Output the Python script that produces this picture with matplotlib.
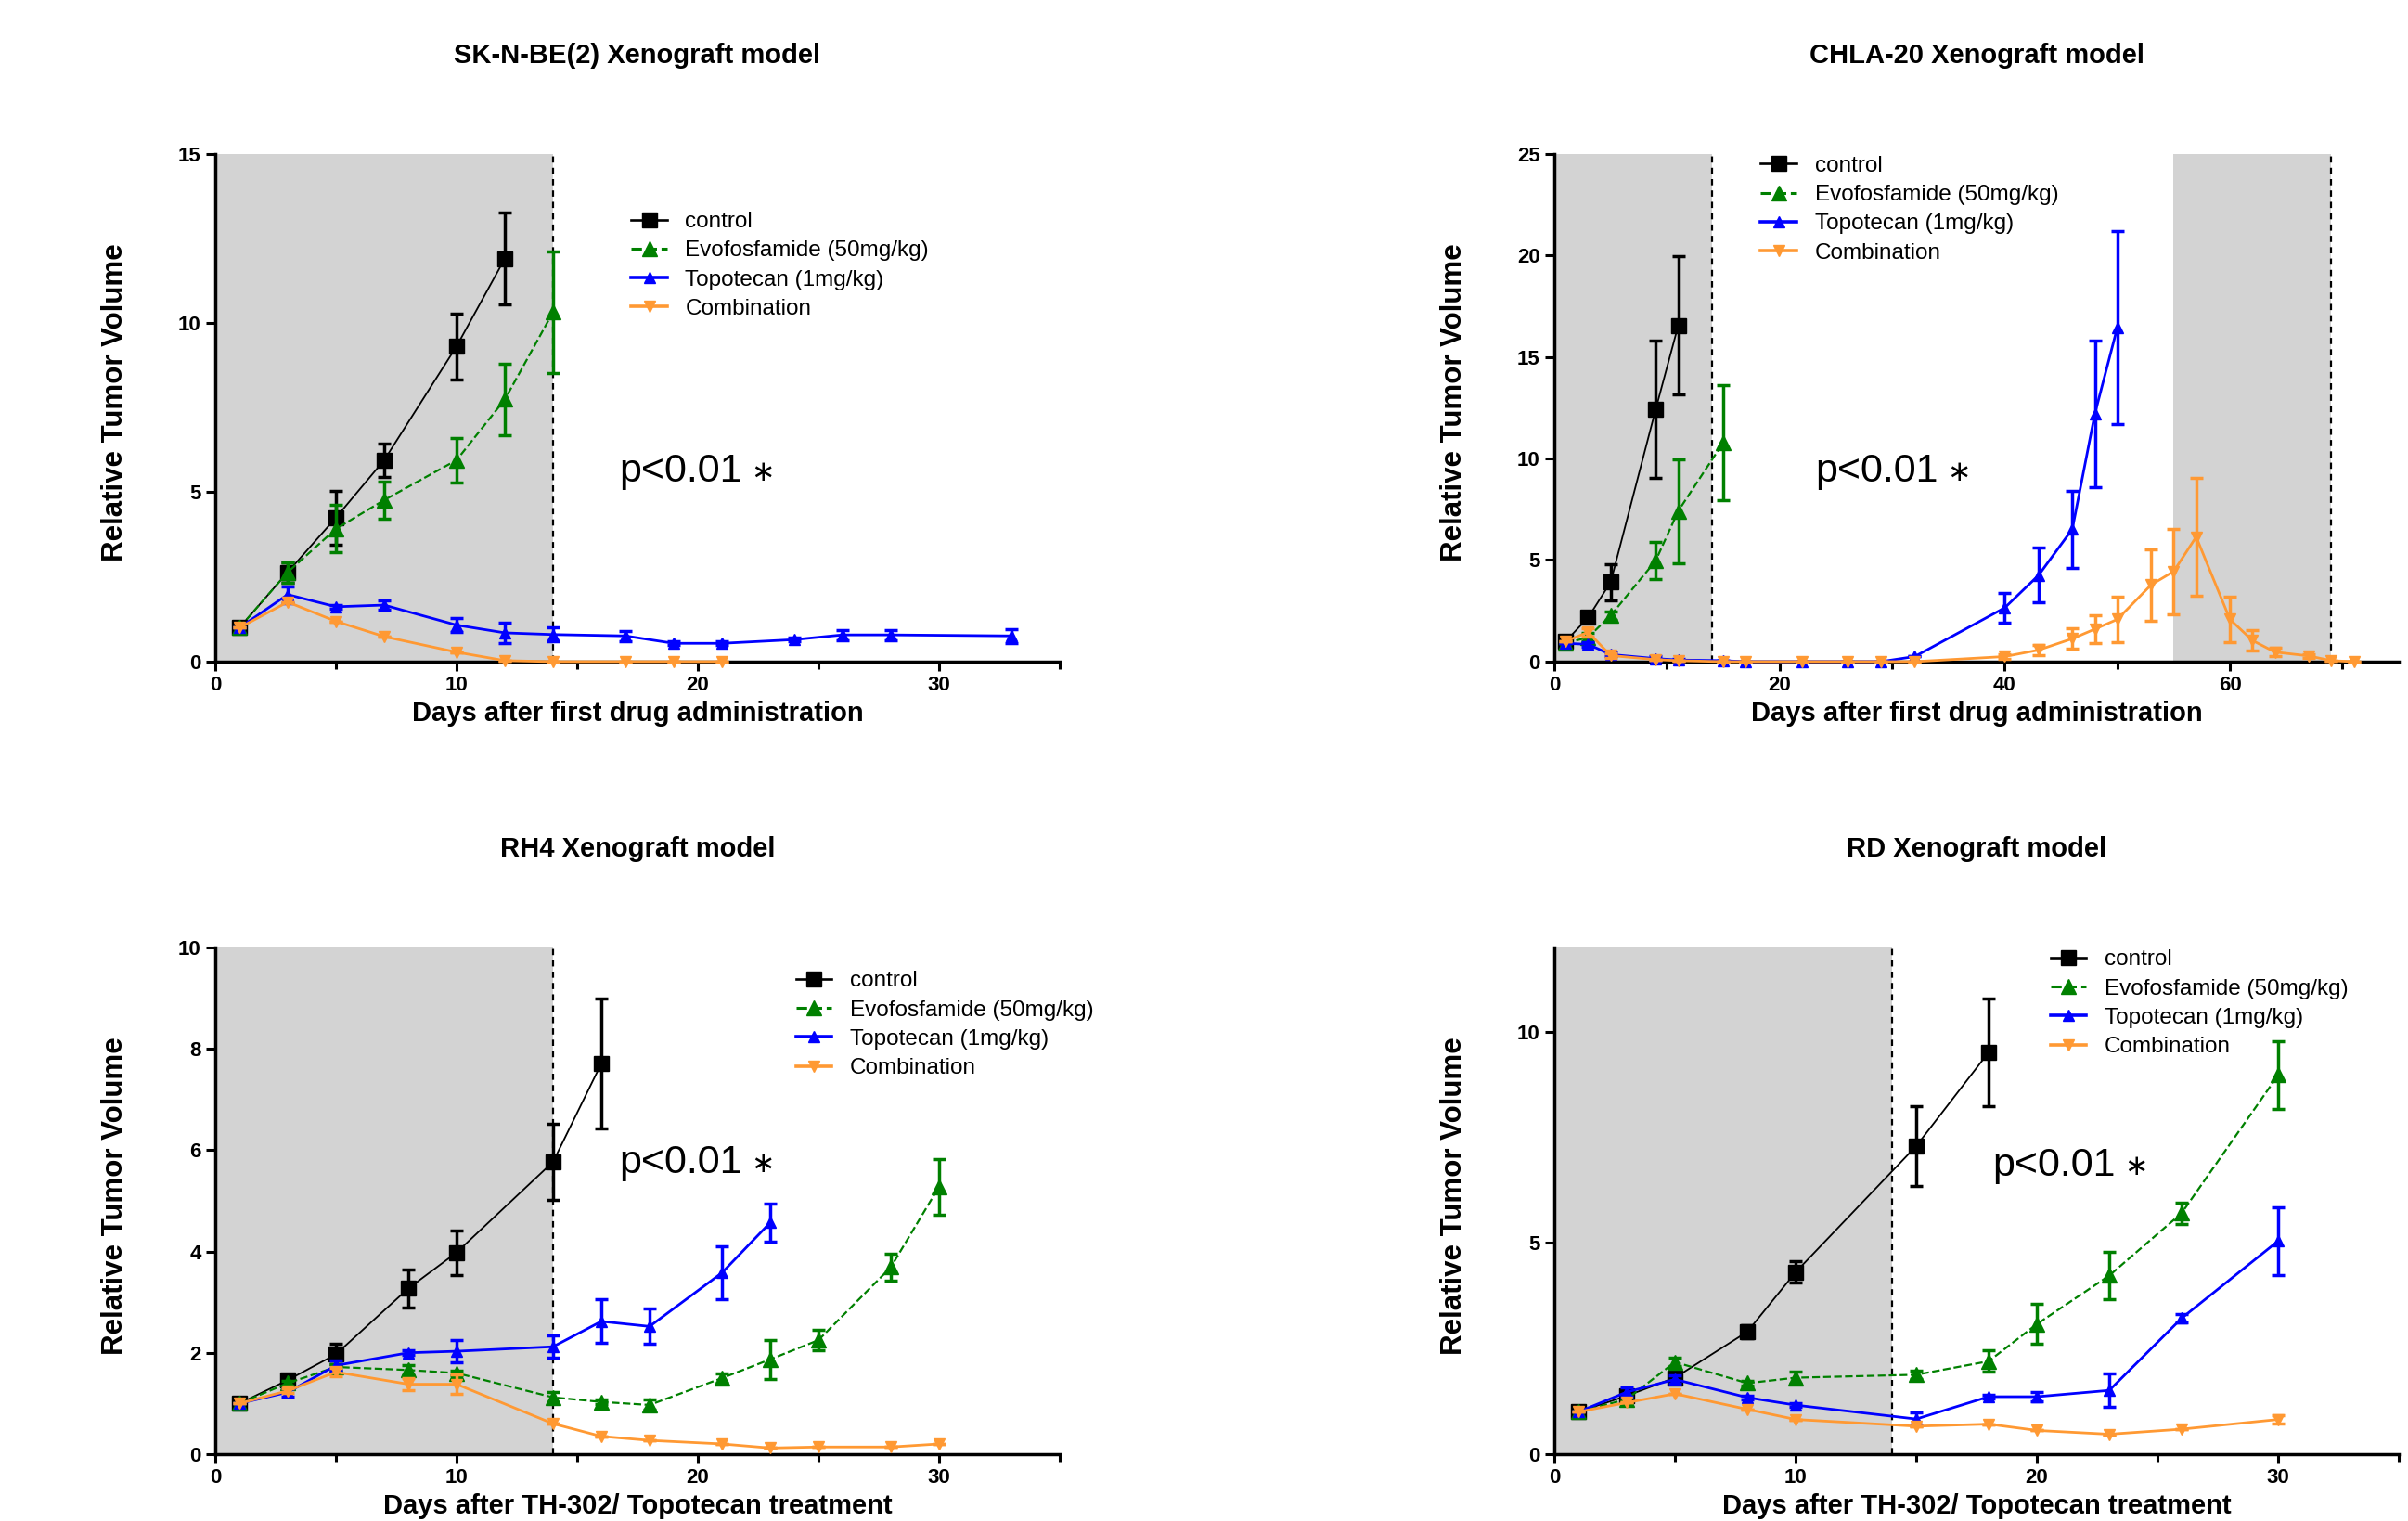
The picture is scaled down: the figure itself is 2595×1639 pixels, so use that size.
import matplotlib
matplotlib.use("Agg")
import matplotlib.pyplot as plt
from matplotlib.lines import Line2D
import numpy as np

# ---------------- DATA ----------------
titles = ["SK-N-BE(2) Xenograft model", "CHLA-20 Xenograft model",
          "RH4 Xenograft model", "RD Xenograft model"]
xlabels = ["Days after first drug administration", "Days after first drug administration",
           "Days after TH-302/ Topotecan treatment", "Days after TH-302/ Topotecan treatment"]
series_names = ["control", "Evofosfamide (50mg/kg)", "Topotecan (1mg/kg)", "Combination"]

# SK-N-BE(2)
p1_ctrl_days = [1, 3, 5, 7, 10, 12]
p1_ctrl = [1.0, 2.64, 4.25, 5.95, 9.31, 11.9]
p1_ctrl_err = [0, 0.3, 0.8, 0.5, 0.97, 1.35]
p1_evo_days = [1, 3, 5, 7, 10, 12, 14]
p1_evo = [1.0, 2.64, 3.92, 4.77, 5.95, 7.74, 10.32]
p1_evo_err = [0, 0.3, 0.7, 0.55, 0.65, 1.05, 1.8]
p1_topo_days = [1, 3, 5, 7, 10, 12, 14, 17, 19, 21, 24, 26, 28, 33]
p1_topo = [1.0, 1.98, 1.62, 1.67, 1.08, 0.85, 0.8, 0.76, 0.54, 0.54, 0.65, 0.79, 0.79, 0.76]
p1_topo_err = [0, 0.25, 0.05, 0.15, 0.2, 0.3, 0.2, 0.15, 0.05, 0.05, 0.05, 0.15, 0.15, 0.2]
p1_comb_days = [1, 3, 5, 7, 10, 12, 14, 17, 19, 21]
p1_comb = [1.0, 1.76, 1.19, 0.74, 0.28, 0.03, 0.0, 0.0, 0.0, 0.0]
p1_comb_err = [0, 0, 0, 0, 0, 0, 0, 0, 0, 0]

# CHLA-20
p2_ctrl_days = [1, 3, 5, 9, 11]
p2_ctrl = [1.0, 2.17, 3.91, 12.42, 16.54]
p2_ctrl_err = [0, 0.2, 0.9, 3.4, 3.4]
p2_evo_days = [1, 3, 5, 9, 11, 15]
p2_evo = [0.9, 1.2, 2.27, 4.97, 7.41, 10.78]
p2_evo_err = [0, 0.2, 0.2, 0.9, 2.55, 2.85]
p2_topo_days = [1, 3, 5, 9, 11, 15, 17, 22, 26, 29, 32, 40, 43, 46, 48, 50]
p2_topo = [0.9, 0.85, 0.35, 0.15, 0.08, 0.05, 0, 0, 0, 0, 0.25, 2.65, 4.25, 6.52, 12.19, 16.45]
p2_topo_err = [0, 0.1, 0.1, 0.1, 0.05, 0, 0, 0, 0, 0, 0, 0.75, 1.35, 1.9, 3.6, 4.75]
p2_comb_days = [1, 3, 5, 9, 11, 15, 17, 22, 26, 29, 32, 40, 43, 46, 48, 50, 53, 55, 57, 60, 62, 64, 67, 69, 71]
p2_comb = [1.0, 1.45, 0.3, 0.1, 0.05, 0, 0, 0, 0, 0, 0, 0.25, 0.57, 1.13, 1.6, 2.08, 3.78, 4.44, 6.14,
           2.08, 1.04, 0.47, 0.28, 0.05, 0]
p2_comb_err = [0, 0.2, 0.1, 0, 0, 0, 0, 0, 0, 0, 0, 0.1, 0.25, 0.5, 0.7, 1.1, 1.75, 2.1, 2.9,
               1.1, 0.5, 0.2, 0.1, 0, 0]

# RH4
p3_ctrl_days = [1, 3, 5, 8, 10, 14, 16]
p3_ctrl = [1.0, 1.46, 1.97, 3.27, 3.98, 5.77, 7.71]
p3_ctrl_err = [0, 0.08, 0.2, 0.37, 0.44, 0.75, 1.28]
p3_evo_days = [1, 3, 5, 8, 10, 14, 16, 18, 21, 23, 25, 28, 30]
p3_evo = [1.0, 1.4, 1.72, 1.66, 1.6, 1.12, 1.03, 0.97, 1.5, 1.87, 2.25, 3.69, 5.28]
p3_evo_err = [0, 0.05, 0.05, 0.1, 0.05, 0.1, 0.05, 0.1, 0.1, 0.38, 0.2, 0.27, 0.55]
p3_topo_days = [1, 3, 5, 8, 10, 14, 16, 18, 21, 23]
p3_topo = [1.0, 1.22, 1.75, 2.0, 2.03, 2.12, 2.62, 2.52, 3.58, 4.57]
p3_topo_err = [0, 0.08, 0.1, 0.05, 0.22, 0.22, 0.43, 0.35, 0.53, 0.37]
p3_comb_days = [1, 3, 5, 8, 10, 14, 16, 18, 21, 23, 25, 28, 30]
p3_comb = [1.0, 1.25, 1.62, 1.38, 1.38, 0.6, 0.35, 0.27, 0.2, 0.12, 0.14, 0.14, 0.2]
p3_comb_err = [0, 0.05, 0.08, 0.12, 0.2, 0, 0, 0, 0, 0, 0, 0, 0]

# RD
p4_ctrl_days = [1, 3, 5, 8, 10, 15, 18]
p4_ctrl = [1.0, 1.38, 1.81, 2.9, 4.31, 7.3, 9.52]
p4_ctrl_err = [0, 0.08, 0.1, 0.15, 0.25, 0.95, 1.27]
p4_evo_days = [1, 3, 5, 8, 10, 15, 18, 20, 23, 26, 30]
p4_evo = [1.0, 1.3, 2.18, 1.68, 1.81, 1.88, 2.2, 3.08, 4.23, 5.71, 8.98]
p4_evo_err = [0, 0.05, 0.1, 0.05, 0.15, 0.1, 0.25, 0.47, 0.57, 0.25, 0.8]
p4_topo_days = [1, 3, 5, 8, 10, 15, 18, 20, 23, 26, 30]
p4_topo = [1.0, 1.47, 1.77, 1.34, 1.16, 0.83, 1.36, 1.36, 1.51, 3.22, 5.05]
p4_topo_err = [0, 0.1, 0.1, 0.05, 0.05, 0.15, 0.05, 0.12, 0.4, 0.1, 0.8]
p4_comb_days = [1, 3, 5, 8, 10, 15, 18, 20, 23, 26, 30]
p4_comb = [1.0, 1.22, 1.43, 1.06, 0.82, 0.66, 0.71, 0.56, 0.47, 0.59, 0.82]
p4_comb_err = [0, 0, 0, 0, 0, 0, 0, 0, 0, 0, 0.1]

panels = [
    [(p1_ctrl_days, p1_ctrl, p1_ctrl_err), (p1_evo_days, p1_evo, p1_evo_err),
     (p1_topo_days, p1_topo, p1_topo_err), (p1_comb_days, p1_comb, p1_comb_err)],
    [(p2_ctrl_days, p2_ctrl, p2_ctrl_err), (p2_evo_days, p2_evo, p2_evo_err),
     (p2_topo_days, p2_topo, p2_topo_err), (p2_comb_days, p2_comb, p2_comb_err)],
    [(p3_ctrl_days, p3_ctrl, p3_ctrl_err), (p3_evo_days, p3_evo, p3_evo_err),
     (p3_topo_days, p3_topo, p3_topo_err), (p3_comb_days, p3_comb, p3_comb_err)],
    [(p4_ctrl_days, p4_ctrl, p4_ctrl_err), (p4_evo_days, p4_evo, p4_evo_err),
     (p4_topo_days, p4_topo, p4_topo_err), (p4_comb_days, p4_comb, p4_comb_err)],
]

xlims = [35, 75, 35, 35]
ylims = [15, 25, 10, 12]
xmajor = [10, 20, 10, 10]
ymajor = [5, 5, 2, 5]
shades = [[(0, 14)], [(0, 14), (55, 69)], [(0, 14)], [(0, 14)]]

# ---------------- STYLE ----------------
NARROW = ['Liberation Sans Narrow', 'Liberation Sans', 'DejaVu Sans']
ARIAL = ['Liberation Sans', 'DejaVu Sans']
plt.rcParams['font.family'] = ARIAL

colors = ['#000000', '#008000', '#0000FF', '#FF9933']
markers = ['s', '^', '^', 'v']
msizes = [11, 11, 8, 8]
lstyles = ['-', '--', '-', '-']
lwidths = [1.3, 1.6, 2.0, 2.0]

fig = plt.figure(figsize=(25.95, 16.39), dpi=100)

axpos = [
    [0.0894, 0.565, 0.3507, 0.334],
    [0.6455, 0.565, 0.3507, 0.334],
    [0.0894, 0.044, 0.3507, 0.333],
    [0.6455, 0.044, 0.3507, 0.333],
]
legend_anchor = [(0.479, 0.908), (0.231, 1.018), (0.674, 0.976), (0.574, 1.018)]
ptext_pos = [(0.478, 0.375), (0.309, 0.375), (0.478, 0.576), (0.519, 0.57)]
title_y = [0.9636, 0.9636, 0.4417, 0.4417]

for i in range(4):
    ax = fig.add_axes(axpos[i])
    for (a, b) in shades[i]:
        ax.axvspan(a, b, color='#D3D3D3', zorder=0, lw=0)
        ax.axvline(b, color='black', ls=(0, (3, 2.5)), lw=1.6, zorder=1)
    handles = []
    for k in range(4):
        d, v, e = panels[i][k]
        ax.errorbar(d, v, yerr=e, color=colors[k], marker=markers[k], ms=msizes[k],
                    ls=lstyles[k], lw=lwidths[k], elinewidth=2.5, capsize=5, capthick=2.5,
                    zorder=3 + k, clip_on=False)
        handles.append(Line2D([], [], color=colors[k], marker=markers[k], ms=msizes[k],
                              ls=lstyles[k], lw=lwidths[k] + 0.6, label=series_names[k]))
    ax.set_xlim(0, xlims[i])
    ax.set_ylim(0, ylims[i])
    ax.xaxis.set_major_locator(matplotlib.ticker.MultipleLocator(xmajor[i]))
    ax.xaxis.set_minor_locator(matplotlib.ticker.MultipleLocator(xmajor[i] / 2))
    ax.yaxis.set_major_locator(matplotlib.ticker.MultipleLocator(ymajor[i]))
    for s in ['top', 'right']:
        ax.spines[s].set_visible(False)
    for s in ['left', 'bottom']:
        ax.spines[s].set_linewidth(2.5)
    ax.tick_params(axis='both', which='major', direction='out', length=7, width=2.2,
                   labelsize=16, pad=4)
    ax.tick_params(axis='x', which='minor', direction='out', length=6, width=2.2)
    for lab in ax.get_xticklabels() + ax.get_yticklabels():
        lab.set_family(NARROW)
        lab.set_fontweight('bold')
    ax.set_xlabel(xlabels[i], fontsize=21, fontweight='bold', family=NARROW)
    ax.xaxis.set_label_coords(0.5, -0.103)
    ax.xaxis.label.set_va('center')
    ax.set_ylabel("Relative Tumor Volume", fontsize=22.5, fontweight='bold')
    ax.yaxis.set_label_coords(-0.119, 0.51)
    ax.yaxis.label.set_va('center')
    ax.legend(handles=handles, loc='upper left', bbox_to_anchor=legend_anchor[i], frameon=False,
              prop={'family': NARROW, 'size': 17.5}, borderpad=0, labelspacing=0.38,
              handlelength=1.6, handletextpad=0.8, numpoints=1)
    ax.text(ptext_pos[i][0], ptext_pos[i][1], "p<0.01", transform=ax.transAxes,
            fontsize=31, family=NARROW, va='center', ha='left')
    ax.text(ptext_pos[i][0] + 0.17, ptext_pos[i][1] - 0.003, "\u2217", transform=ax.transAxes,
            fontsize=22, family=['DejaVu Sans'], va='center', ha='center')
    fig.text(axpos[i][0] + axpos[i][2] / 2, title_y[i], titles[i], fontsize=21,
             fontweight='bold', ha='center', va='center')

fig.savefig("out.png", dpi=100)
